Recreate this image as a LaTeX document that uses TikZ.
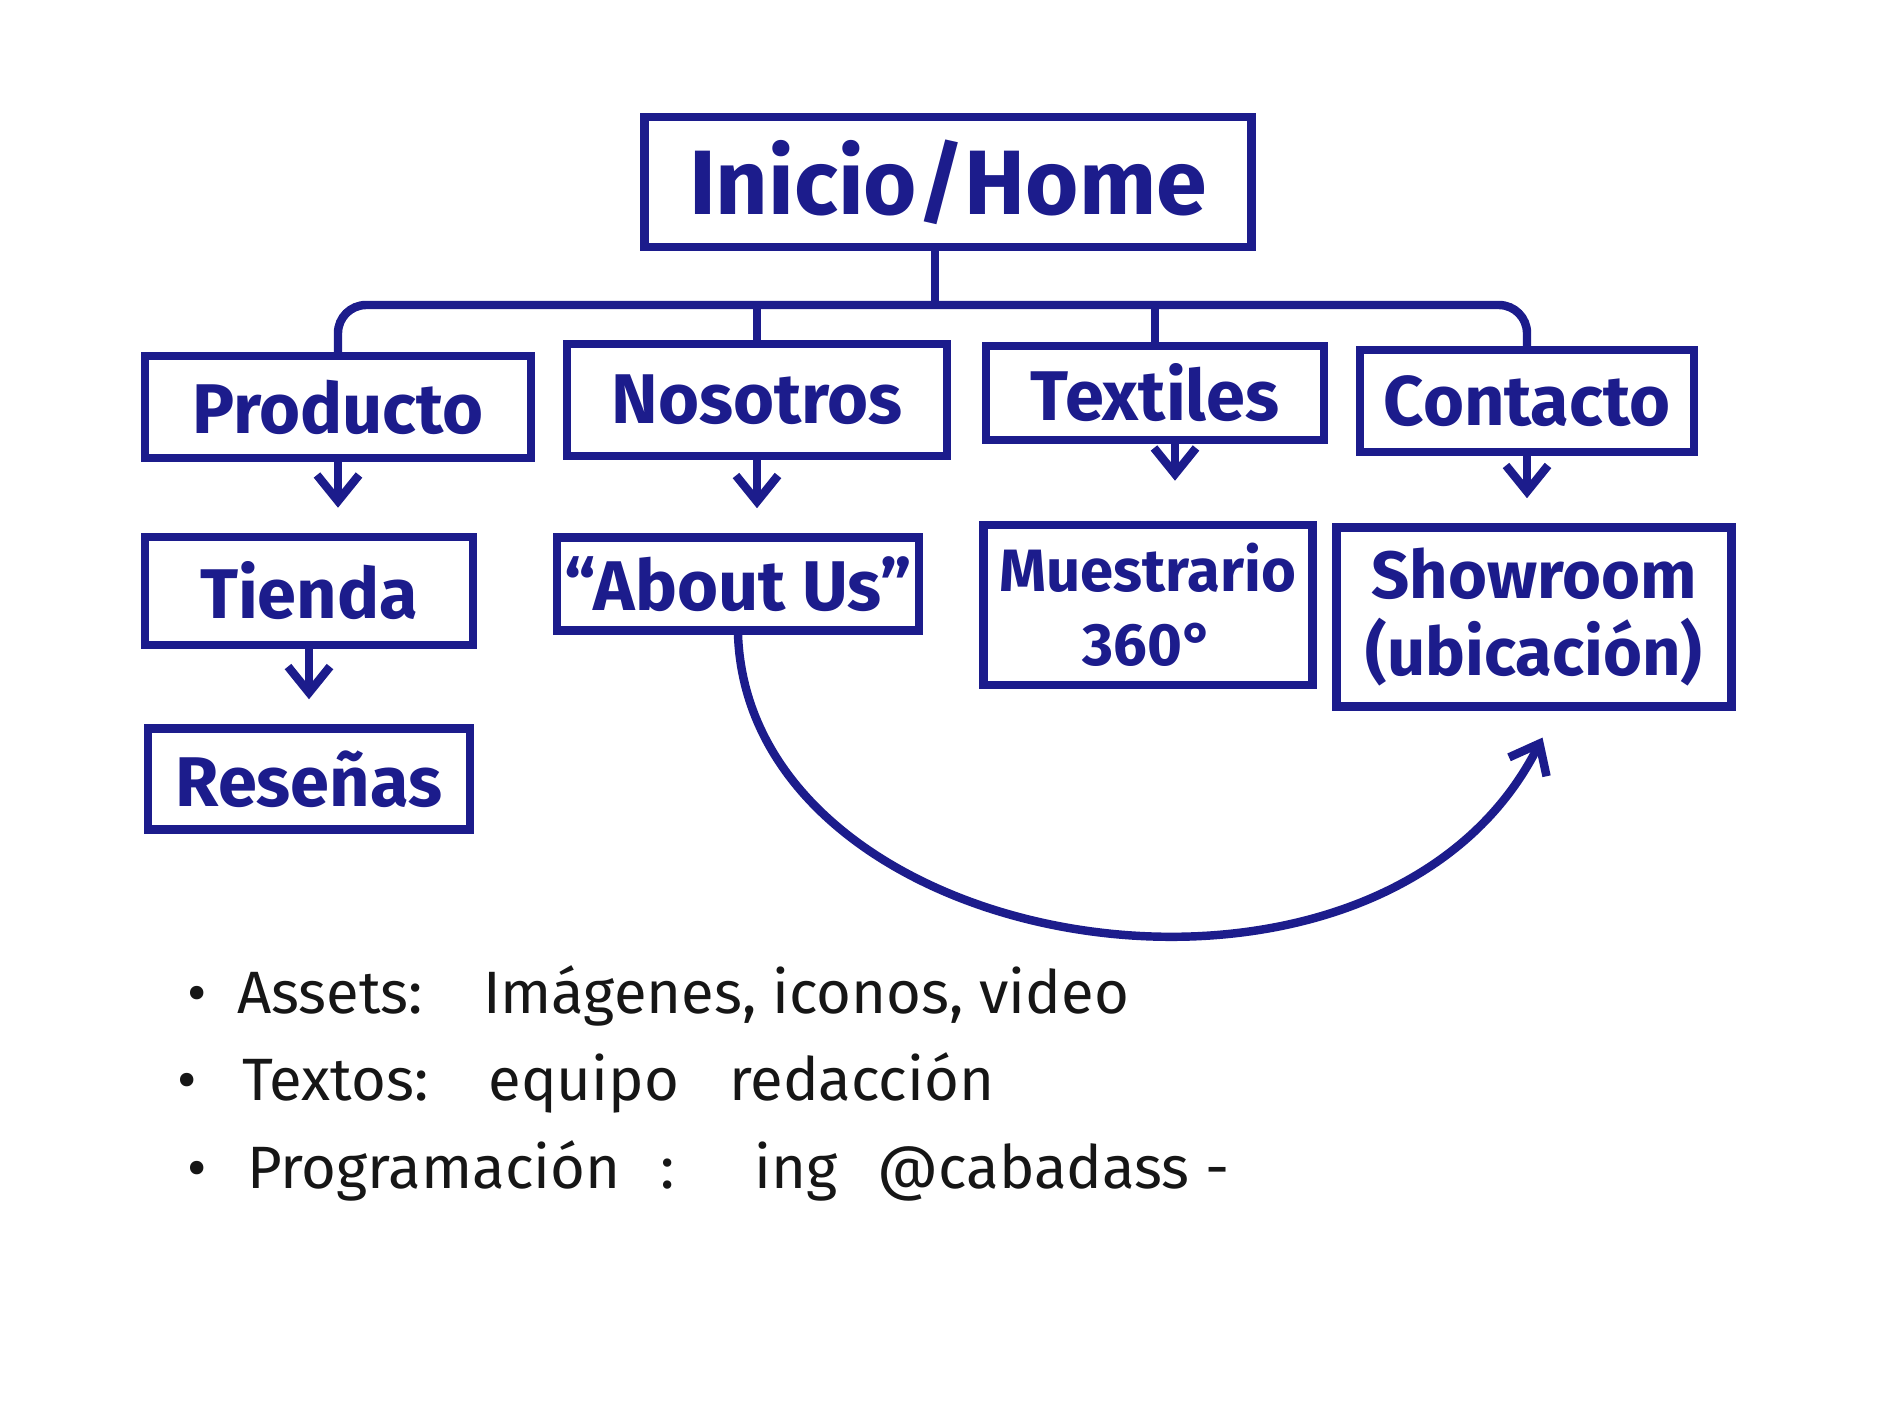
\documentclass[tikz,border=0pt]{standalone}
\usepackage{fontspec}
\setmainfont{Fira Sans}
\usetikzlibrary{arrows.meta,positioning}
\definecolor{marker}{HTML}{1C1C8C}
\definecolor{pencil}{HTML}{161616}
\tikzset{
  >={Straight Barb[length=2.6mm,width=4.2mm]},
  pen/.style={draw=marker,line width=2.4pt},
  box/.style={pen,rectangle,inner sep=2pt,text=marker,align=center,font=\fontsize{20}{22}\selectfont\bfseries},
  link/.style={pen,->,shorten >=2.5mm},
  note/.style={anchor=base west,text=pencil,inner sep=0pt,font=\fontsize{17}{19}\selectfont},
}

\begin{document}
\begin{tikzpicture}[x=0.01cm,y=-0.01cm]
  \fill[white] (0,0) rectangle (1891,1415);
  \useasboundingbox (0,0) rectangle (1891,1415);
  % top page
  \node[box,minimum width=6.07cm,minimum height=1.3cm,font=\fontsize{26}{28}\selectfont\bfseries] (home) at (948,182) {Inicio/Home};
  % sections
  \node[box,minimum width=3.86cm,minimum height=1.02cm] (prod) at (338,407) {Producto};
  \node[box,minimum width=3.8cm,minimum height=1.12cm] (nos) at (757,400) {Nosotros};
  \node[box,minimum width=3.38cm,minimum height=0.94cm] (tex) at (1155,393) {Textiles};
  \node[box,minimum width=3.34cm,minimum height=1.02cm] (con) at (1527,401) {Contacto};
  % subpages
  \node[box,minimum width=3.28cm,minimum height=1.08cm] (tienda) at (309,591) {Tienda};
  \node[box,minimum width=3.22cm,minimum height=1.01cm,below=7.5mm of tienda] (resenas) {Reseñas};
  \node[box,minimum width=3.5cm,minimum height=0.93cm] (about) at (738,584) {``About Us''};
  \node[box,minimum width=3.29cm,minimum height=1.6cm,font=\fontsize{17}{21}\selectfont\bfseries] (muest) at (1148,605) {Muestrario\\360°};
  \node[box,minimum width=3.95cm,minimum height=1.79cm,font=\fontsize{19}{22}\selectfont\bfseries] (show) at (1534,617) {Showroom\\(ubicación)};
  % tree lines
  \coordinate (bus) at (935,305);
  \draw[pen] (home.south -| bus) -- (bus);
  \draw[pen,rounded corners=8pt] (prod.north) |- (bus) -| (con.north);
  \draw[pen] (nos.north) -- (nos.north |- bus);
  \draw[pen] (tex.north) -- (tex.north |- bus);
  % arrows
  \draw[link] (prod.south) -- (prod.south |- tienda.north);
  \draw[link] (nos.south) -- (nos.south |- about.north);
  \draw[link,shorten >=4mm] ([xshift=2mm]tex.south) -- ([xshift=2mm]tex.south |- muest.north);
  \draw[link] (con.south) -- (con.south |- show.north);
  \draw[link] (tienda.south) -- (tienda.south |- resenas.north);
  \draw[link,shorten >=3mm] (about.south) .. controls (750,960) and (1380,1060) .. ([xshift=2.2mm]show.south);
  % notes
  \node[note] (assets) at (187,1013) {\textbullet\hspace{3mm}Assets:\hspace{6mm}Imágenes, iconos, video};
  \node[note] (textos) at (177,1100) {\textbullet\hspace{4.5mm}Textos:\hspace{6mm}equipo\hspace{5mm}redacción};
  \node[note] (progra) at (187,1188) {\textbullet\hspace{4mm}Programación\hspace{4mm}:\hspace{8mm}ing\hspace{4mm}@cabadass -};
\end{tikzpicture}
\end{document}
